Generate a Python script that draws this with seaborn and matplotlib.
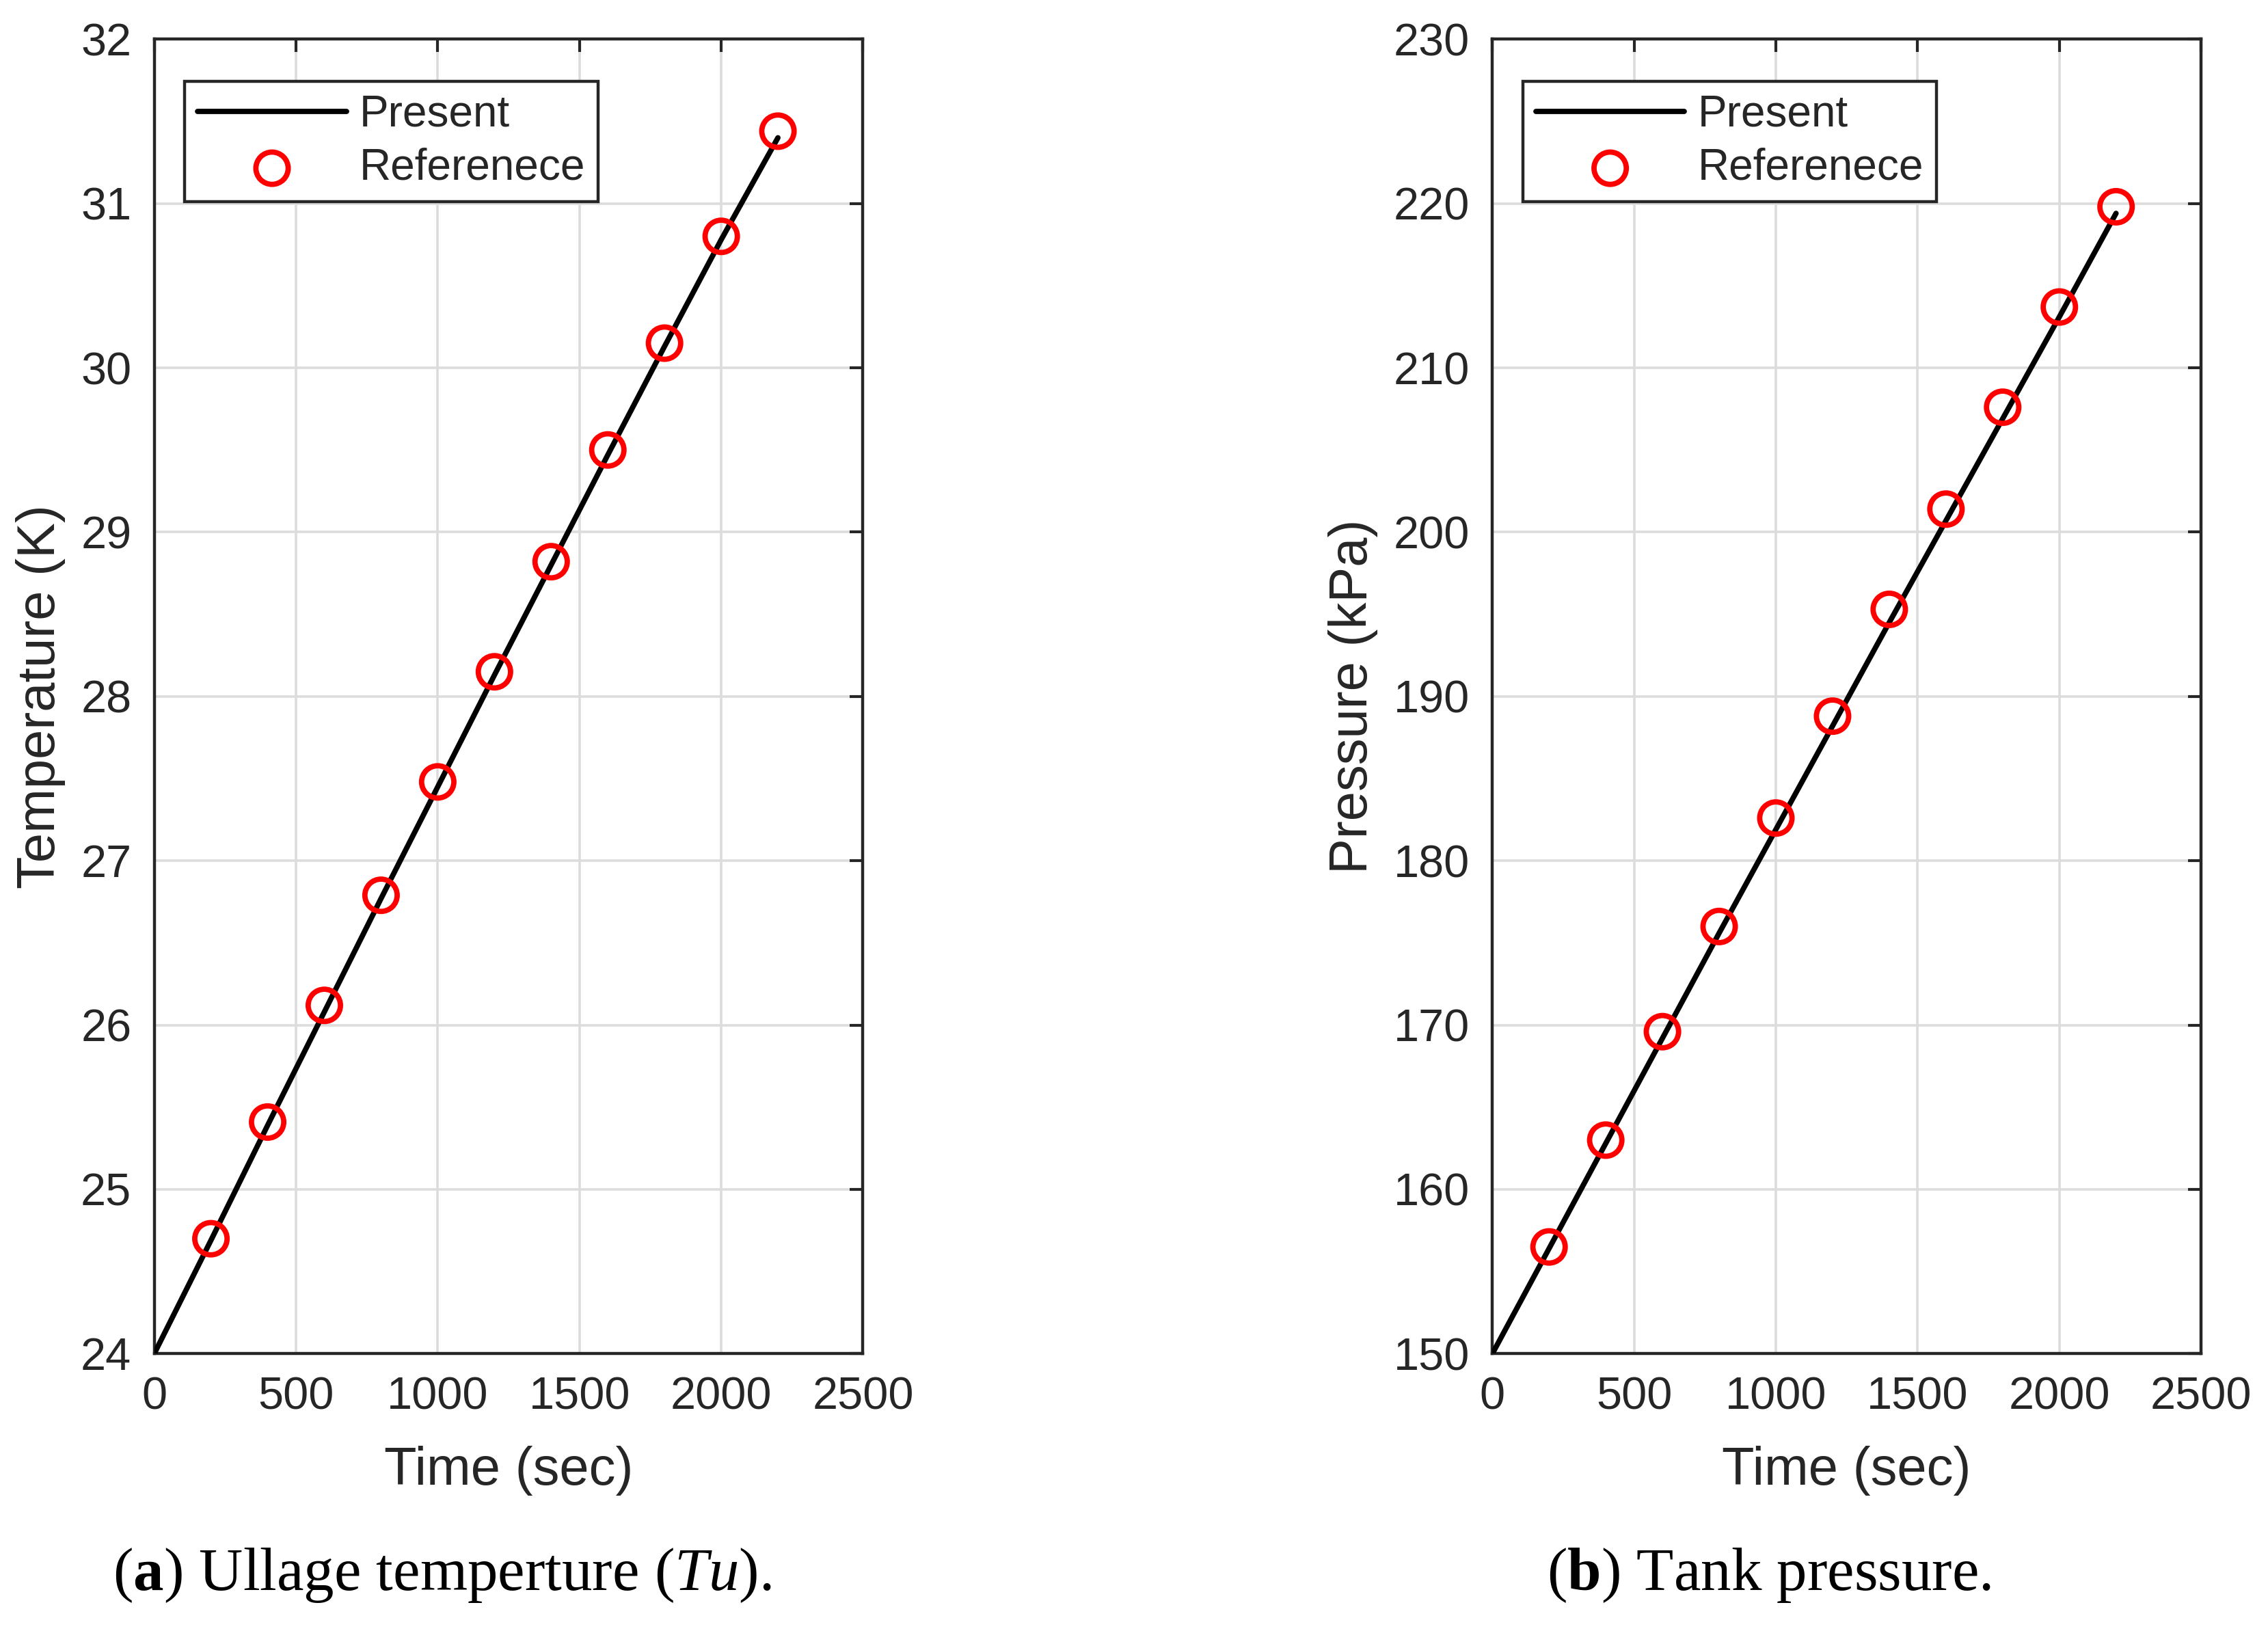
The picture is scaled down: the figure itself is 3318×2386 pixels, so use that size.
import numpy as np
import pandas as pd
import matplotlib
matplotlib.use("Agg")
import matplotlib.pyplot as plt
import seaborn as sns

# Time axis (sec)
time_present = [0, 200, 400, 600, 800, 1000, 1200, 1400, 1600, 1800, 2000, 2200]
time_ref = [200, 400, 600, 800, 1000, 1200, 1400, 1600, 1800, 2000, 2200]

# Ullage temperature (K)
temp_present = [24.0, 24.69, 25.39, 26.08, 26.77, 27.45, 28.13, 28.80, 29.47, 30.13, 30.78, 31.40]
temp_ref = [24.70, 25.41, 26.12, 26.79, 27.48, 28.15, 28.82, 29.50, 30.15, 30.80, 31.44]

# Tank pressure (kPa)
pres_present = [150.0, 156.4, 162.8, 169.2, 175.6, 181.9, 188.2, 194.5, 200.7, 206.9, 213.1, 219.4]
pres_ref = [156.5, 163.0, 169.6, 176.0, 182.6, 188.8, 195.3, 201.4, 207.6, 213.7, 219.8]

x_ticks = [0, 500, 1000, 1500, 2000, 2500]
temp_ticks = [24, 25, 26, 27, 28, 29, 30, 31, 32]
pres_ticks = [150, 160, 170, 180, 190, 200, 210, 220, 230]

sns.set_style("whitegrid")
plt.rcParams['font.family'] = ['Liberation Sans', 'DejaVu Sans']
plt.rcParams['mathtext.fontset'] = 'custom'
plt.rcParams['mathtext.rm'] = 'Liberation Serif'
plt.rcParams['mathtext.it'] = 'Liberation Serif:italic'
plt.rcParams['mathtext.bf'] = 'Liberation Serif:bold'

fig = plt.figure(figsize=(16.59, 11.93), dpi=200)
ax1 = fig.add_axes([0.068, 0.170, 0.3125, 0.806])
ax2 = fig.add_axes([0.658, 0.170, 0.3125, 0.806])

dark = '#262626'

panels = [
    (ax1, temp_present, temp_ref, temp_ticks, 'Temperature (K)'),
    (ax2, pres_present, pres_ref, pres_ticks, 'Pressure (kPa)'),
]

for ax, present, ref, yticks, ylabel in panels:
    df_p = pd.DataFrame({'t': time_present, 'v': present})
    df_r = pd.DataFrame({'t': time_ref, 'v': ref})
    sns.lineplot(data=df_p, x='t', y='v', ax=ax, color='black', linewidth=2.8,
                 label='Present', zorder=3)
    sns.scatterplot(data=df_r, x='t', y='v', ax=ax, marker='o', s=17 ** 2,
                    facecolors='none', edgecolor='red', linewidth=2.8,
                    label='Referenece', zorder=4)
    ax.set_xlim(0, 2500)
    ax.set_ylim(yticks[0], yticks[-1])
    ax.set_xticks(x_ticks)
    ax.set_yticks(yticks)
    ax.set_xlabel('Time (sec)', fontsize=28, color=dark, labelpad=14)
    ax.set_ylabel(ylabel, fontsize=28, color=dark, labelpad=8)
    ax.tick_params(axis='both', which='both', direction='in', length=7, width=1.5,
                   colors=dark, labelsize=24, top=True, right=True, pad=12)
    ax.grid(True, color='#dcdcdc', linewidth=1.3)
    for sp in ax.spines.values():
        sp.set_color(dark)
        sp.set_linewidth(1.6)
        sp.set_visible(True)
    leg = ax.legend(loc='upper left', bbox_to_anchor=(0.043, 0.968), borderaxespad=0,
                    fontsize=23, handlelength=3.4, handletextpad=0.3, labelspacing=0.28,
                    fancybox=False, framealpha=1, edgecolor=dark, borderpad=0.3)
    leg.get_frame().set_linewidth(1.6)

fig.text(0.195, 0.034, r'($\mathbf{a}$) Ullage temperture ($\mathit{Tu}$).',
         fontsize=32, family='Liberation Serif', ha='center', va='center', color='black')
fig.text(0.78, 0.034, r'($\mathbf{b}$) Tank pressure.',
         fontsize=32, family='Liberation Serif', ha='center', va='center', color='black')

fig.savefig('out.png', dpi=200)
